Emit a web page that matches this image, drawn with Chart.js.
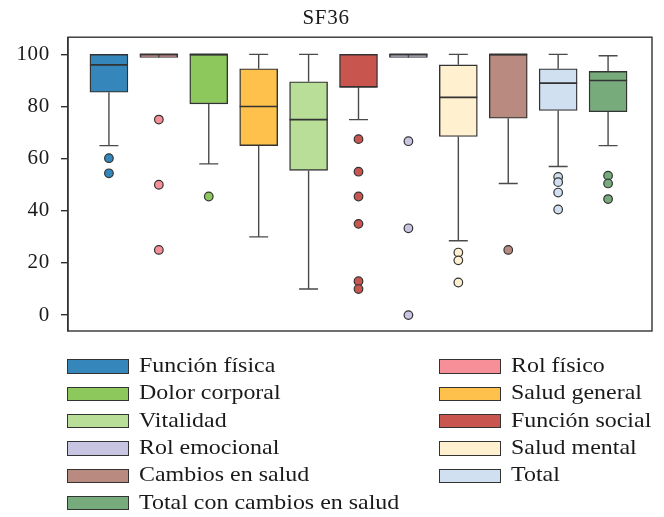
<!DOCTYPE html>
<html>
<head>
<meta charset="utf-8">
<script src="https://cdn.jsdelivr.net/npm/chart.js@4"></script>
<style>
  html, body { margin: 0; padding: 0; background: #fff; }
  #wrap { position: relative; width: 664px; height: 517px; }
  #legend { position: absolute; left: 67px; top: 353px; width: 597px;
    display: grid; grid-template-columns: 372px 225px; grid-auto-rows: 27.3px;
    font-family: "Liberation Serif", "Times New Roman", serif; font-size: 21px; color: #1a1a1a; }
  .item { display: flex; align-items: center; white-space: nowrap; }
  .sw { width: 60px; height: 12.5px; border: 1.4px solid #333; margin-right: 10px; flex: none; }
  .tx { position: relative; top: -1px; display: inline-block; transform: scaleX(1.14); transform-origin: 0 50%; }
</style>
</head>
<body>
<div id="wrap">
  <canvas id="c" width="664" height="517"></canvas>
  <div id="legend"></div>
</div>
<script>
const categories = ['Función física','Rol físico','Dolor corporal','Salud general','Vitalidad','Función social','Rol emocional','Salud mental','Cambios en salud','Total','Total con cambios en salud'];
const colors = ['#3587bb','#f68f98','#8cc85c','#fec24c','#b8de98','#c9554f','#c8c5e3','#fff0cf','#b88a80','#d0e0f0','#78ab7c'];
const whiskerLow  = [65, 100, 58, 30, 10, 75, 100, 28.5, 50.5, 57, 65];
const q1          = [85.5, 98.8, 81, 65, 55.5, 87.5, 98.8, 68.5, 75.5, 78.5, 78];
const median      = [96, 100, 100, 80, 75, 87.5, 100, 83.5, 100, 89, 90];
const q3          = [100, 100, 100, 94.5, 89.5, 100, 100, 96, 100, 94.5, 93.5];
const whiskerHigh = [100, 100, 100, 100, 100, 100, 100, 100, 100, 100, 99.5];
const outliers = [[60.2,54.4],[75,50,25],[45.5],[],[],[67.5,55,45.5,35,13,10],[66.7,33.3,0],[24,21,12.5],[25],[53,51,47,40.5],[53.5,50.5,44.5]];
const yTicks = [0,20,40,60,80,100];

const boxData = categories.map((c,i)=>({x:i+1, y:[q1[i], q3[i]]}));
const outPts = [], outCols = [];
outliers.forEach((arr,i)=>arr.forEach(v=>{ outPts.push({x:i+1,y:v}); outCols.push(colors[i]); }));

const FONT = '"Liberation Serif", "Times New Roman", serif';

const boxPlugin = {
  id: 'boxExtras',
  beforeLayout(chart) { chart.ctx.letterSpacing = '0.7px'; },
  afterDatasetsDraw(chart) {
    const ctx = chart.ctx, xs = chart.scales.x, ys = chart.scales.y;
    const meta = chart.getDatasetMeta(0);
    ctx.save();
    categories.forEach((c,i)=>{
      const bar = meta.data[i];
      const half = bar.width/2;
      const cx = xs.getPixelForValue(i+1);
      ctx.strokeStyle = '#4a4a4a'; ctx.lineWidth = 1.4;
      ctx.beginPath();
      ctx.moveTo(cx, ys.getPixelForValue(q1[i])); ctx.lineTo(cx, ys.getPixelForValue(whiskerLow[i]));
      ctx.moveTo(cx, ys.getPixelForValue(q3[i])); ctx.lineTo(cx, ys.getPixelForValue(whiskerHigh[i]));
      const yl = ys.getPixelForValue(whiskerLow[i]), yh = ys.getPixelForValue(whiskerHigh[i]);
      if (whiskerLow[i] < q1[i]) { ctx.moveTo(cx-half/2, yl); ctx.lineTo(cx+half/2, yl); }
      if (whiskerHigh[i] > q3[i]) { ctx.moveTo(cx-half/2, yh); ctx.lineTo(cx+half/2, yh); }
      ctx.stroke();
      ctx.strokeStyle = '#333'; ctx.lineWidth = 1.6;
      const ym = ys.getPixelForValue(median[i]);
      ctx.beginPath(); ctx.moveTo(cx-half, ym); ctx.lineTo(cx+half, ym); ctx.stroke();
    });
    ctx.restore();
  },
  afterDraw(chart) {
    const a = chart.chartArea, ctx = chart.ctx;
    ctx.save(); ctx.strokeStyle = '#333'; ctx.lineWidth = 1.4;
    ctx.strokeRect(a.left, a.top, a.right-a.left, a.bottom-a.top);
    ctx.restore();
  }
};

new Chart(document.getElementById('c'), {
  data: {
    datasets: [
      { type:'bar', data: boxData, backgroundColor: colors, borderColor:'#333', borderWidth:1.4,
        borderSkipped:false, barThickness:38, order:2 },
      { type:'scatter', data: outPts, pointBackgroundColor: outCols, pointBorderColor:'#333',
        pointBorderWidth:1.2, pointRadius:4.3, order:1 }
    ]
  },
  options: {
    responsive:false, animation:false,
    layout: { padding: { left:0, right:12, top:0, bottom:186 } },
    plugins: {
      legend: { display:false }, tooltip: { enabled:false },
      title: { display:true, text:'SF36', color:'#1a1a1a', font:{family:FONT, size:21, weight:'normal'}, padding:{top:6, bottom:6} }
    },
    scales: {
      x: { type:'linear', min:0.18, max:11.88, offset:false, display:false },
      y: { min:-6.1, max:106.6,
        afterBuildTicks(s){ s.ticks = yTicks.map(v=>({value:v})); },
        afterFit(s){ s.width = 68; },
        ticks: { color:'#1a1a1a', font:{family:FONT, size:21}, padding:11 },
        grid: { drawOnChartArea:false, drawTicks:true, tickLength:7, color:'#333', lineWidth:1.4 },
        border: { display:true, color:'#333', width:1.4 }
      }
    }
  },
  plugins: [boxPlugin]
});

const lg = document.getElementById('legend');
const leftCol = [0,2,4,6,8,10], rightCol = [1,3,5,7,9];
for (let r=0; r<6; r++) {
  [leftCol[r], rightCol[r]].forEach(idx=>{
    const d = document.createElement('div'); d.className='item';
    if (idx !== undefined) {
      d.innerHTML = '<span class="sw" style="background:'+colors[idx]+'"></span><span class="tx">'+categories[idx]+'</span>';
    }
    lg.appendChild(d);
  });
}
</script>
</body>
</html>
